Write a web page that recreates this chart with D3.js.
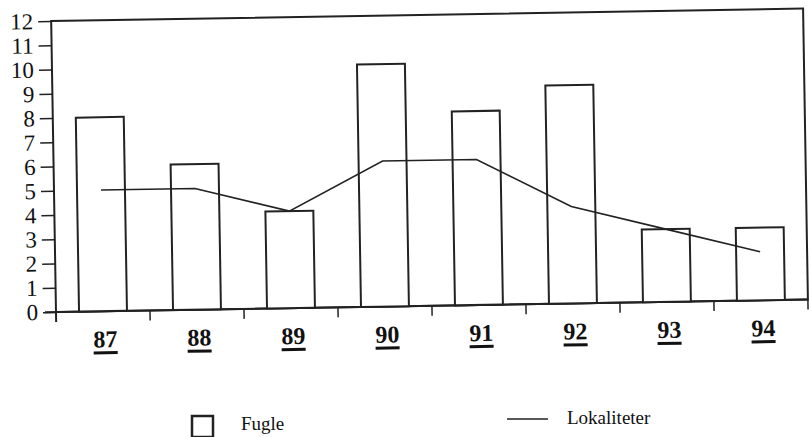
<html>

<head>
    <meta charset="utf-8">
    <script src="https://d3js.org/d3.v7.min.js"></script>
</head>

<body style="margin:0;background:#fff">
    <script>

        // data
        var years = ["87", "88", "89", "90", "91", "92", "93", "94"];
        var fugle = [8, 6, 4, 10, 8, 9, 3, 3];
        var lokaliteter = [5, 5, 4, 6, 6, 4, 3, 2];
        var yTicks = [0, 1, 2, 3, 4, 5, 6, 7, 8, 9, 10, 11, 12];

        var width = 809;
        var height = 437;
        // plot box ("top" is reserved by window, so other names)
        var plotLeft = 56, plotRight = 808, plotTop = 21, plotBottom = 312;
        var serif = "'Liberation Serif', 'Times New Roman', serif";

        var svg = d3.select("body").append("svg")
            .attr("width", width).attr("height", height)
            .style("font-family", serif);

        // the scan is a little tilted
        var g = svg.append("g").attr("transform", "rotate(-0.95," + plotLeft + "," + plotBottom + ")");

        var xScale = d3.scaleBand()
            .domain(years)
            .range([plotLeft, plotRight])
            .paddingInner(0.49)
            .paddingOuter(0.245);

        var yScale = d3.scaleLinear()
            .domain([0, 12])
            .range([plotBottom, plotTop]);

        // frame
        g.append("rect")
            .attr("x", plotLeft).attr("y", plotTop)
            .attr("width", plotRight - plotLeft).attr("height", plotBottom - plotTop)
            .attr("fill", "none").attr("stroke", "#222").attr("stroke-width", 2);

        // y axis
        var yAxis = g.append("g")
            .attr("transform", "translate(" + plotLeft + ",0)")
            .call(d3.axisLeft(yScale).tickValues(yTicks).tickSize(13).tickPadding(5));
        yAxis.attr("font-family", null);
        yAxis.select(".domain").remove();
        yAxis.selectAll("line").attr("stroke", "#222").attr("stroke-width", 1.5);
        yAxis.selectAll("text")
            .style("font-family", serif).style("font-size", "23px")
            .attr("fill", "#111");

        // y axis runs a bit below zero
        g.append("line")
            .attr("x1", plotLeft).attr("x2", plotLeft)
            .attr("y1", plotBottom).attr("y2", plotBottom + 10)
            .attr("stroke", "#222").attr("stroke-width", 2);

        // x axis line + ticks at band edges
        g.append("line")
            .attr("x1", plotLeft - 11).attr("x2", plotRight)
            .attr("y1", plotBottom).attr("y2", plotBottom)
            .attr("stroke", "#222").attr("stroke-width", 2);

        var step = xScale.step();
        var edges = years.map(function(d) { return xScale(d) - step * xScale.paddingOuter(); });
        edges.push(plotRight);
        g.selectAll(".xtick").data(edges.slice(1)).enter().append("line")
            .attr("x1", function(d) { return d; }).attr("x2", function(d) { return d; })
            .attr("y1", plotBottom).attr("y2", plotBottom + 10)
            .attr("stroke", "#222").attr("stroke-width", 1.5);

        // x labels (bold, underlined)
        var labels = g.selectAll(".xlab").data(years).enter().append("g");
        labels.append("text")
            .attr("x", function(d) { return xScale(d) + xScale.bandwidth() / 2 + 2; })
            .attr("y", plotBottom + 36)
            .attr("text-anchor", "middle")
            .style("font-family", serif)
            .attr("font-size", 24).attr("font-weight", "bold").attr("fill", "#111")
            .text(function(d) { return d; })
            .each(function(d) {
                var w = this.getComputedTextLength();
                var cx = xScale(d) + xScale.bandwidth() / 2 + 2;
                d3.select(this.parentNode).append("rect")
                    .attr("x", cx - w / 2).attr("y", plotBottom + 40)
                    .attr("width", w).attr("height", 3).attr("fill", "#111");
            });

        // bars
        g.append("g").selectAll("rect")
            .data(fugle)
            .enter().append("rect")
            .attr("x", function(d, i) { return xScale(years[i]); })
            .attr("y", function(d) { return yScale(d); })
            .attr("width", xScale.bandwidth())
            .attr("height", function(d) { return yScale(0) - yScale(d); })
            .attr("fill", "#fff").attr("stroke", "#222").attr("stroke-width", 2);

        // line
        var line = d3.line()
            .x(function(d, i) { return xScale(years[i]) + xScale.bandwidth() / 2; })
            .y(function(d) { return yScale(d); });
        g.append("path")
            .datum(lokaliteter)
            .attr("d", line)
            .attr("fill", "none").attr("stroke", "#222").attr("stroke-width", 1.6);

        // legend
        svg.append("rect")
            .attr("x", 192).attr("y", 416).attr("width", 21).attr("height", 21)
            .attr("fill", "#fff").attr("stroke", "#222").attr("stroke-width", 2.5);
        svg.append("text").attr("x", 241).attr("y", 430)
            .attr("font-size", 19).attr("fill", "#111").text("Fugle");
        svg.append("line")
            .attr("x1", 507).attr("x2", 548).attr("y1", 419).attr("y2", 419)
            .attr("stroke", "#222").attr("stroke-width", 1.6);
        svg.append("text").attr("x", 567).attr("y", 424)
            .attr("font-size", 19).attr("fill", "#111").text("Lokaliteter");
    </script>
</body>

</html>
